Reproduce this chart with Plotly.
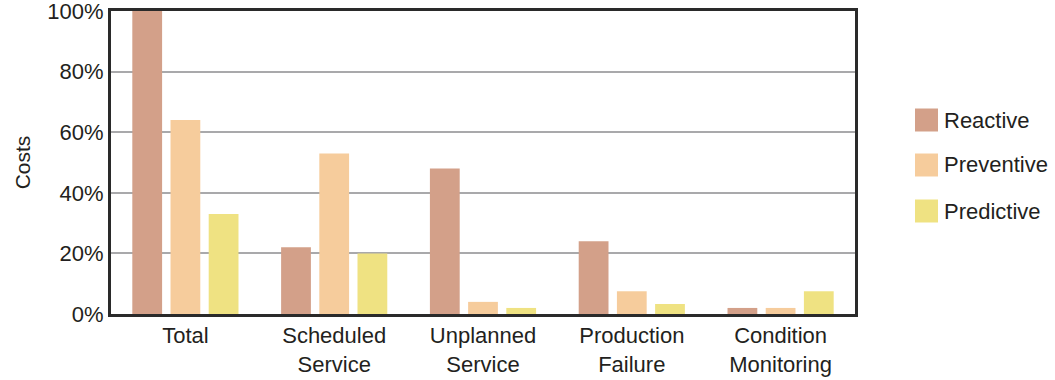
import plotly.graph_objects as go

# Cost share per maintenance strategy
categories = ["Total", "Scheduled<br>Service", "Unplanned<br>Service",
              "Production<br>Failure", "Condition<br>Monitoring"]
reactive = [100, 22, 48, 24, 2]
preventive = [64, 53, 4, 7.5, 2]
predictive = [33, 20, 2, 3.3, 7.5]

series_names = ["Reactive", "Preventive", "Predictive"]
series_colors = ["#d3a089", "#f6cc9c", "#efe282"]
y_ticks = [0, 20, 40, 60, 80, 100]
y_tick_text = ["0%", "20%", "40%", "60%", "80%", "100%"]

font_family = "Liberation Sans, Arial, Helvetica, sans-serif"
text_color = "#231f20"

fig = go.Figure()
for name, vals, color in zip(series_names, [reactive, preventive, predictive], series_colors):
    fig.add_trace(go.Bar(x=categories, y=vals, name=name, marker_color=color,
                         marker_line_width=0, showlegend=False))

fig.update_layout(
    width=1055, height=380,
    margin=dict(l=111, r=200, t=11, b=66, autoexpand=False),
    paper_bgcolor="white", plot_bgcolor="white",
    barmode="group", bargap=0.23, bargroupgap=0.22,
    font=dict(family=font_family, size=22, color=text_color),
)

fig.update_xaxes(
    showline=True, linewidth=3, linecolor="#2a2a2a", mirror=True,
    showgrid=False, ticks="", tickfont=dict(size=22), automargin=False,
)
fig.update_yaxes(
    range=[0, 100], tickmode="array", tickvals=y_ticks, ticktext=y_tick_text,
    showline=True, linewidth=3, linecolor="#2a2a2a", mirror=True,
    showgrid=True, gridcolor="#a9a9ab", gridwidth=2,
    zeroline=False, ticks="", tickfont=dict(size=22), automargin=False,
    ticklabeloverflow="allow",
    title=dict(text="Costs", font=dict(size=21), standoff=11),
)

# Legend with large square swatches
leg_x0 = 915
leg_y = [120, 165, 211]
for name, color, yc in zip(series_names, series_colors, leg_y):
    fig.add_shape(type="rect", xref="paper", yref="paper",
                  x0=(leg_x0 - 111) / 744, x1=(leg_x0 + 23 - 111) / 744,
                  y0=(314 - (yc + 11.5)) / 303, y1=(314 - (yc - 11.5)) / 303,
                  fillcolor=color, line_width=0)
    fig.add_annotation(text=name, xref="paper", yref="paper",
                       x=(leg_x0 + 27 - 111) / 744, y=(314 - yc) / 303,
                       xanchor="left", yanchor="middle", showarrow=False,
                       font=dict(size=22, color=text_color))

fig.write_html("out.html")
